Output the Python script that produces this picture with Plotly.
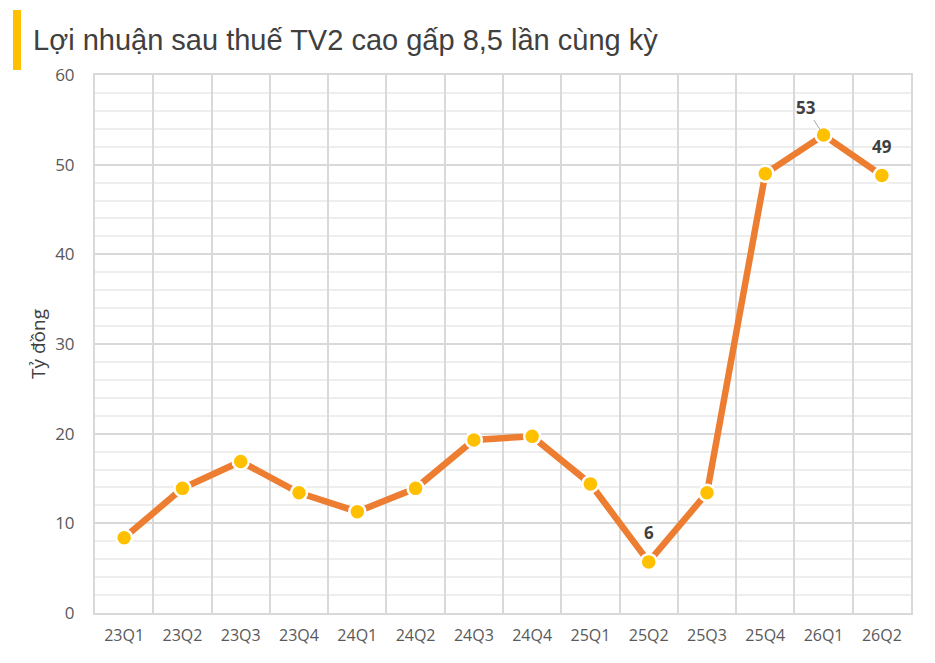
import plotly.graph_objects as go

quarters = ["23Q1", "23Q2", "23Q3", "23Q4", "24Q1", "24Q2", "24Q3", "24Q4",
            "25Q1", "25Q2", "25Q3", "25Q4", "26Q1", "26Q2"]
profit = [8.4, 13.9, 16.9, 13.4, 11.3, 13.9, 19.3, 19.7, 14.4, 5.7, 13.4, 49.0, 53.3, 48.8]
labels = {"25Q2": "6", "26Q1": "53", "26Q2": "49"}

fig = go.Figure()
fig.add_trace(go.Scatter(
    x=quarters, y=profit, mode="lines+markers",
    line=dict(color="#ED7D31", width=6.5),
    marker=dict(color="#FFC000", size=16, line=dict(color="white", width=2.5)),
    hoverinfo="x+y", showlegend=False,
))

for q, t in labels.items():
    i = quarters.index(q)
    if q == "26Q1":
        fig.add_annotation(x=q, y=profit[i], text="<b>%s</b>" % t, showarrow=True,
                           arrowhead=0, arrowwidth=1, arrowcolor="#a6a6a6",
                           ax=-18, ay=-28, standoff=6,
                           font=dict(size=17, color="#404040", family="Open Sans"))
    else:
        fig.add_annotation(x=q, y=profit[i], text="<b>%s</b>" % t, showarrow=False,
                           yshift=29, xshift=0,
                           font=dict(size=17, color="#404040", family="Open Sans"))

fig.add_shape(type="rect", xref="paper", yref="paper", x0=-0.1005, x1=-0.0907,
              y0=1.0093, y1=1.1208, fillcolor="#FFC000", line=dict(width=0), layer="above")

fig.update_layout(
    width=935, height=663,
    margin=dict(l=87, r=32, t=67, b=58, autoexpand=False),
    paper_bgcolor="white", plot_bgcolor="white",
    title=dict(text="Lợi nhuận sau thuế TV2 cao gấp 8,5 lần cùng kỳ",
               x=25 / 935, xanchor="left", y=0.952, yanchor="middle", automargin=False,
               pad=dict(l=0, t=0, b=0, r=0),
               font=dict(family="Liberation Sans, Arial", size=29, color="#404040")),
    xaxis=dict(type="category", tickson="boundaries", showgrid=True, automargin=False,
               gridcolor="#d9d9d9", gridwidth=2, ticks="", showline=True,
               linecolor="#d9d9d9", linewidth=2, mirror=True,
               range=[-0.5, 13.5], ticklabelstandoff=7,
               tickfont=dict(family="Open Sans", size=16, color="#595959")),
    yaxis=dict(range=[0, 60], dtick=10, showgrid=True, gridcolor="#d9d9d9",
               gridwidth=2, zeroline=False, showline=True, linecolor="#d9d9d9",
               linewidth=2, mirror=True, ticks="", automargin=False,
               ticklabelstandoff=15,
               minor=dict(dtick=2, showgrid=True, gridcolor="#eeeeee", gridwidth=1.5),
               tickfont=dict(family="Open Sans", size=17, color="#595959"),
               title=dict(text="Tỷ đồng", standoff=4,
                          font=dict(family="Open Sans", size=19, color="#404040"))),
)

fig.write_html("out.html")
